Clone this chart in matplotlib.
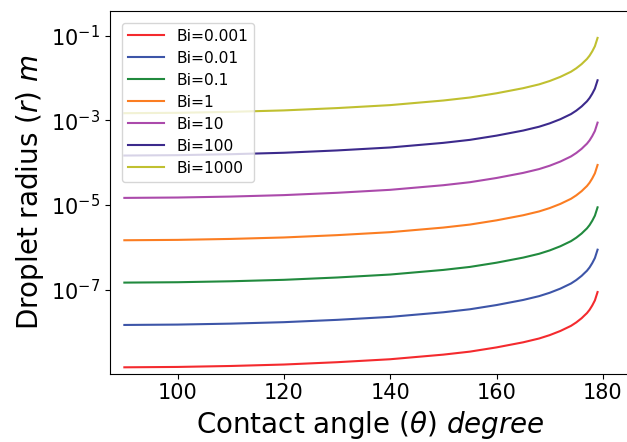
import matplotlib
matplotlib.use("Agg")
import matplotlib.pyplot as plt

# contact angle (degree)
theta = [90, 100, 110, 120, 130, 140, 150, 155, 160, 165, 168, 170, 172, 174, 175, 176, 176.5, 177, 177.5,
         178, 178.5, 179]

# droplet radius, one list per Biot number
r_0001 = [1.47e-9, 1.50e-9, 1.58e-9, 1.71e-9, 1.94e-9, 2.28e-9, 2.93e-9, 3.45e-9, 4.34e-9, 5.72e-9,
          7.04e-9, 8.46e-9, 1.06e-8, 1.40e-8, 1.69e-8, 2.12e-8, 2.44e-8, 2.80e-8, 3.36e-8,
          4.24e-8, 5.60e-8, 8.80e-8]
r_001 = [1.47e-8, 1.50e-8, 1.58e-8, 1.71e-8, 1.94e-8, 2.28e-8, 2.93e-8, 3.45e-8, 4.34e-8, 5.72e-8,
         7.04e-8, 8.46e-8, 1.06e-7, 1.40e-7, 1.69e-7, 2.12e-7, 2.44e-7, 2.80e-7, 3.36e-7,
         4.24e-7, 5.60e-7, 8.80e-7]
r_01 = [1.47e-7, 1.50e-7, 1.58e-7, 1.71e-7, 1.94e-7, 2.28e-7, 2.93e-7, 3.45e-7, 4.34e-7, 5.72e-7,
        7.04e-7, 8.46e-7, 1.06e-6, 1.40e-6, 1.69e-6, 2.12e-6, 2.44e-6, 2.80e-6, 3.36e-6,
        4.24e-6, 5.60e-6, 8.80e-6]
r_1 = [1.47e-6, 1.50e-6, 1.58e-6, 1.71e-6, 1.94e-6, 2.28e-6, 2.93e-6, 3.45e-6, 4.34e-6, 5.72e-6,
       7.04e-6, 8.46e-6, 1.06e-5, 1.40e-5, 1.69e-5, 2.12e-5, 2.44e-5, 2.80e-5, 3.36e-5,
       4.24e-5, 5.60e-5, 8.80e-5]
r_10 = [1.47e-5, 1.50e-5, 1.58e-5, 1.71e-5, 1.94e-5, 2.28e-5, 2.93e-5, 3.45e-5, 4.34e-5, 5.72e-5,
        7.04e-5, 8.46e-5, 1.06e-4, 1.40e-4, 1.69e-4, 2.12e-4, 2.44e-4, 2.80e-4, 3.36e-4,
        4.24e-4, 5.60e-4, 8.80e-4]
r_100 = [1.47e-4, 1.50e-4, 1.58e-4, 1.71e-4, 1.94e-4, 2.28e-4, 2.93e-4, 3.45e-4, 4.34e-4, 5.72e-4,
         7.04e-4, 8.46e-4, 1.06e-3, 1.40e-3, 1.69e-3, 2.12e-3, 2.44e-3, 2.80e-3, 3.36e-3,
         4.24e-3, 5.60e-3, 8.80e-3]
r_1000 = [1.47e-3, 1.50e-3, 1.58e-3, 1.71e-3, 1.94e-3, 2.28e-3, 2.93e-3, 3.45e-3, 4.34e-3, 5.72e-3,
          7.04e-3, 8.46e-3, 1.06e-2, 1.40e-2, 1.69e-2, 2.12e-2, 2.44e-2, 2.80e-2, 3.36e-2,
          4.24e-2, 5.60e-2, 8.80e-2]

labels = ["Bi=0.001", "Bi=0.01", "Bi=0.1", "Bi=1", "Bi=10", "Bi=100", "Bi=1000"]
colors = ["#f42a2e", "#3d55a8", "#218a3e", "#fb7d22", "#ab4aab", "#3c2a8c", "#c0c030"]

fig = plt.figure(figsize=(6.27, 4.42), dpi=100)
ax = fig.add_axes([110/627, 68.5/442, 520/627, 362.5/442])

series = [r_0001, r_001, r_01, r_1, r_10, r_100, r_1000]
for r, lab, c in zip(series, labels, colors):
    ax.plot(theta, r, color=c, lw=1.5, label=lab)

ax.set_yscale("log")
ax.set_xlim(87.3, 185.1)
ax.set_ylim(1.05e-9, 10**-0.42)
ax.set_yticks([1e-1, 1e-3, 1e-5, 1e-7])
ax.minorticks_off()
ax.set_xticks([100, 120, 140, 160, 180])
ax.tick_params(labelsize=15)

ax.set_xlabel(r"Contact angle ($\theta$) $degree$", fontsize=20)
ax.set_ylabel(r"Droplet radius ($r$) $m$", fontsize=20)
ax.legend(loc="upper left", fontsize=11.2, handlelength=2.3,
          borderaxespad=0.75, labelspacing=0.45)

fig.savefig("out.png", dpi=100)
